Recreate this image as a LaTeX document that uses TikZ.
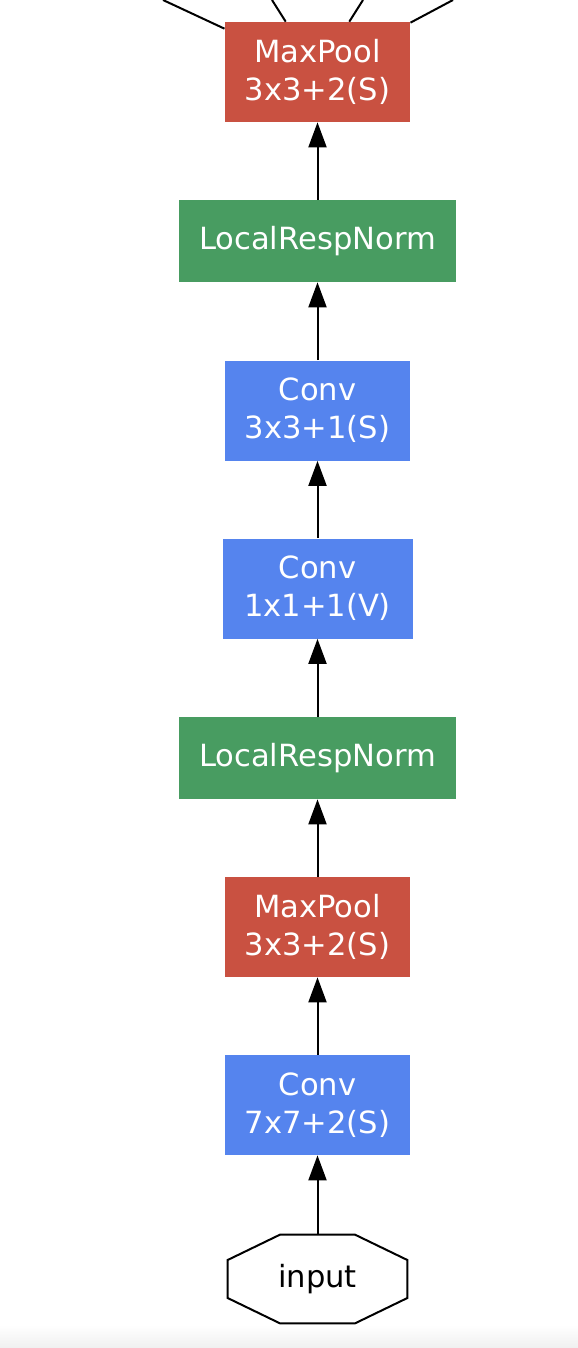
\documentclass[tikz,border=0pt]{standalone}
\usepackage{fontspec}
\setmainfont{DejaVu Sans}
\usepackage{xcolor}
\usepackage{tikz}
\usetikzlibrary{positioning,arrows.meta,calc}

\definecolor{poolred}{HTML}{C95141}
\definecolor{normgreen}{HTML}{489C61}
\definecolor{convblue}{HTML}{5584EE}

\begin{document}
\begin{tikzpicture}[
    box/.style={draw=none, text=white, align=center, inner xsep=0.4cm, inner ysep=0pt, font=\fontsize{17.4}{21.8}\selectfont},
    poolbox/.style={box, fill=poolred, minimum height=2.0cm},
    normbox/.style={box, fill=normgreen, minimum height=1.64cm},
    convbox/.style={box, fill=convblue, minimum height=2.0cm},
    inbox/.style={draw=none, minimum width=3.58cm, minimum height=1.76cm, font=\fontsize{17.4}{21.8}\selectfont},
    arr/.style={-{Triangle[length=0.5cm, width=0.36cm]}, line width=0.04cm},
    edge/.style={line width=0.04cm},
]

\useasboundingbox (0,0) rectangle (11.56,-26.96);
\shade[top color=white, bottom color=black!6] (0,-26.5) rectangle (11.56,-26.96);

\node[poolbox] (mp2) at (6.35, -1.44) {MaxPool\\3x3+2(S)};
\node[normbox] (lrn2) at (6.35, -4.82) {LocalRespNorm};
\node[convbox] (conv3) at (6.35, -8.21) {Conv\\3x3+1(S)};
\node[convbox, minimum width=3.8cm] (conv2) at (6.35, -11.77) {Conv\\1x1+1(V)};
\node[normbox] (lrn1) at (6.35, -15.16) {LocalRespNorm};
\node[poolbox] (mp1) at (6.35, -18.54) {MaxPool\\3x3+2(S)};
\node[convbox] (conv1) at (6.35, -22.10) {Conv\\7x7+2(S)};
\node[inbox] (input) at (6.35, -25.58) {input};

% octagon outline of the input node
\draw[edge, line join=miter]
    ($(input.north)+(-0.75,0)$) -- ($(input.north)+(0.75,0)$)
    -- ($(input.east)+(0,0.38)$) -- ($(input.east)+(0,-0.38)$)
    -- ($(input.south)+(0.75,0)$) -- ($(input.south)+(-0.75,0)$)
    -- ($(input.west)+(0,-0.38)$) -- ($(input.west)+(0,0.38)$) -- cycle;

% branches leaving the picture at the top
\coordinate (b1) at (3.26, 0);
\coordinate (b2) at (5.44, 0);
\coordinate (b3) at (7.26, 0);
\coordinate (b4) at (9.06, 0);
\draw[edge] (mp2) -- (b1);
\draw[edge] (mp2) -- (b2);
\draw[edge] (mp2) -- (b3);
\draw[edge] (mp2) -- (b4);

\draw[arr] (input) -- (conv1);
\draw[arr] (conv1) -- (mp1);
\draw[arr] (mp1) -- (lrn1);
\draw[arr] (lrn1) -- (conv2);
\draw[arr] (conv2) -- (conv3);
\draw[arr] (conv3) -- (lrn2);
\draw[arr] (lrn2) -- (mp2);

\end{tikzpicture}
\end{document}
